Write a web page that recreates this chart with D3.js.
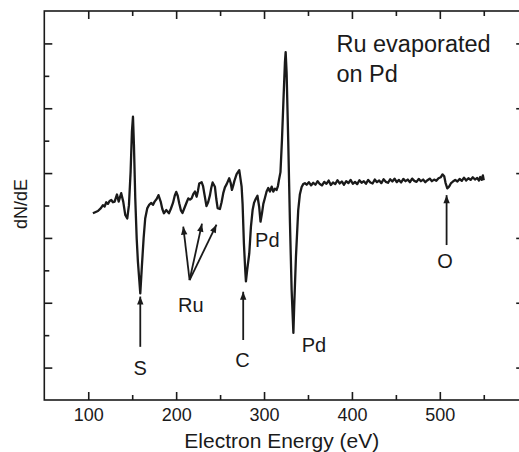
<!DOCTYPE html>
<html><head><meta charset="utf-8">
<script src="https://cdn.jsdelivr.net/npm/d3@7"></script>
<style>body{margin:0;background:#fff}svg{display:block}</style>
</head><body>
<svg id="c" width="519" height="452"></svg>
<script>
// Electron energy (eV)
const energy = [
105.3,108.5,111.0,114.4,116.7,118.6,120.5,122.4,124.3,126.2,128.1,130.0,132.7,134.6,137.5,139.8,142.1,144.4,146.3,148.2,
149.7,150.9,152.0,153.5,155.1,156.5,159.2,161.1,163.0,164.8,167.1,169.5,171.7,173.6,175.5,177.8,179.9,182.4,184.2,186.1,
188.7,191.8,194.0,196.4,198.4,200.1,201.8,203.5,205.4,207.2,210.0,212.0,213.8,215.8,217.6,219.6,221.4,223.3,224.8,226.3,
229.0,230.6,232.0,234.5,236.4,238.5,240.0,241.5,244.1,245.7,247.2,249.8,251.7,253.6,255.5,257.5,260.4,262.0,263.5,265.0,
266.3,268.8,271.8,274.5,275.6,277.1,278.6,279.4,280.8,283.2,285.1,287.0,288.6,290.5,292.5,294.5,296.0,297.6,299.2,301.0,
302.9,304.8,306.7,308.7,310.5,312.4,314.3,315.8,317.0,318.7,320.4,322.1,323.8,324.6,325.7,327.5,329.5,331.4,333.4,334.3,
336.3,338.9,340.8,342.8,344.6,346.5,
348.5,351,353.5,356,358.5,361,363.5,366,368.5,371,373.5,376,378.5,381,383.5,386,388.5,391,393.5,396,
398.5,401,403.5,406,408.5,411,413.5,416,418.5,421,423.5,426,428.5,431,433.5,436,438.5,441,443.5,446,
448.5,451,453.5,456,458.5,461,463.5,466,468.5,471,473.5,476,478.5,481,483.5,486,488.5,491,493.5,496,
498.5,501,503,505,506.5,508.5,510.5,512.5,515,517.5,520,522.5,525,527.5,530,532.5,535,537.5,540,542.5,
544.5,546,547.5,549,550
];
// dN/dE signal (arbitrary units)
const dNdE = [
5.76,5.80,5.83,5.92,6.01,5.97,6.10,6.05,6.14,6.17,6.10,6.12,6.34,6.12,6.38,6.12,5.71,5.60,6.01,7.04,
8.28,8.74,7.86,6.22,4.99,4.27,3.29,4.16,4.99,5.60,5.91,6.03,6.08,6.02,6.12,6.20,6.32,6.12,5.90,5.76,
5.86,5.76,5.90,6.08,6.30,6.42,6.30,6.07,5.85,5.77,5.96,6.10,6.22,6.18,6.22,6.36,6.43,6.27,6.45,6.68,
6.72,6.60,6.38,5.98,6.10,6.32,6.55,6.71,6.58,6.20,5.92,5.89,6.10,6.38,6.56,6.66,6.84,6.70,6.48,6.62,
6.76,6.97,7.09,6.58,6.05,4.83,4.01,3.66,4.01,4.52,5.35,5.86,6.08,6.20,6.30,5.95,5.50,5.75,6.05,6.23,
6.43,6.54,6.43,6.58,6.43,6.52,6.48,6.60,6.79,7.03,8.02,9.25,10.43,10.73,10.09,8.02,5.46,3.39,2.07,2.87,
4.41,5.86,6.35,6.57,6.66,6.69,
6.64,6.72,6.62,6.70,6.64,6.75,6.66,6.62,6.73,6.67,6.77,6.63,6.71,6.66,6.78,6.68,6.74,6.64,6.75,6.69,
6.79,6.67,6.73,6.66,6.78,6.70,6.75,6.67,6.79,6.71,6.68,6.80,6.72,6.77,6.69,6.81,6.73,6.70,6.81,6.74,
6.83,6.72,6.79,6.71,6.82,6.75,6.80,6.72,6.83,6.76,6.73,6.82,6.75,6.80,6.72,6.78,6.83,6.75,6.80,6.76,
6.84,6.87,6.96,6.90,6.70,6.53,6.58,6.68,6.74,6.79,6.74,6.82,6.76,6.86,6.77,6.84,6.79,6.87,6.80,6.85,
6.77,6.88,6.79,6.93,6.78
];
const xMajorTicks = [100, 200, 300, 400, 500];
const xMinorTicks = [150, 250, 350, 450, 550];
const yMajorTicks = [1, 3, 5, 7, 9, 11];
const yMinorTicks = [2, 4, 6, 8, 10];
const xTitle = "Electron Energy (eV)";
const yTitle = "dN/dE";
const noteLines = ["Ru evaporated", "on Pd"];
// annotation labels: text, energy, signal level, anchor
const labelText = ["S", "Ru", "C", "Pd", "Pd", "O"];
const labelE = [159.2, 216.6, 275.4, 289.8, 342.8, 505.8];
const labelV = [0.77, 2.72, 1.03, 4.73, 1.49, 4.07];
const labelAnchor = ["middle", "middle", "middle", "start", "start", "middle"];
// arrows: from (e0,v0) to tip (e1,v1)
const arrowE0 = [159.2, 215.3, 215.3, 215.3, 276.3, 507.7];
const arrowV0 = [1.64, 3.70, 3.70, 3.70, 1.85, 4.78];
const arrowE1 = [159.2, 208.1, 229.4, 245.9, 276.3, 507.7];
const arrowV1 = [3.19, 5.35, 5.44, 5.41, 3.34, 6.32];

const svg = d3.select("#c");
const L = 44.3, T = 11, B = 400, R = 524.2;
const x = d3.scaleLinear().domain([50, 596]).range([L, R]);
const y = d3.scaleLinear().domain([0, 12]).range([B, T]);
const ink = "#1a1a1a";
const font = "Liberation Sans, Arial, Helvetica, sans-serif";

// frame
svg.append("rect").attr("x", L).attr("y", T).attr("width", R - L).attr("height", B - T)
  .attr("fill", "none").attr("stroke", ink).attr("stroke-width", 1.6);

function axisTicks(gen, tr, major, minor, ticksIn) {
  const g1 = svg.append("g").attr("transform", tr).call(gen(major).tickSize(ticksIn[0]));
  const g2 = svg.append("g").attr("transform", tr).call(gen(minor).tickSize(ticksIn[1]));
  [g1, g2].forEach(g => {
    g.select(".domain").remove();
    g.selectAll("line").attr("stroke", ink).attr("stroke-width", 1.6);
    g.selectAll("text").remove();
  });
}
// bottom (ticks inward = upward)
axisTicks(t => d3.axisTop(x).tickValues(t), `translate(0,${B})`, xMajorTicks, xMinorTicks, [8, 5]);
// top (inward = downward)
axisTicks(t => d3.axisBottom(x).tickValues(t), `translate(0,${T})`, xMajorTicks, xMinorTicks, [8, 5]);
// left (inward = right)
axisTicks(t => d3.axisRight(y).tickValues(t), `translate(${L},0)`, yMajorTicks, yMinorTicks, [8, 5]);
// right (inward = left)
axisTicks(t => d3.axisLeft(y).tickValues(t), `translate(${R},0)`, yMajorTicks, yMinorTicks, [8, 5]);

// tick labels
const xl = svg.append("g").attr("transform", `translate(0,${B})`)
  .call(d3.axisBottom(x).tickValues(xMajorTicks).tickSize(0).tickPadding(0).tickFormat(d3.format("d")));
xl.select(".domain").remove();
xl.selectAll("text").attr("y", 21).attr("dy", null).attr("font-family", font).attr("font-size", 18).attr("fill", ink);

// titles
svg.append("text").attr("x", (x(50) + x(596)) / 2 - 2.5).attr("y", 448).attr("text-anchor", "middle")
  .attr("font-family", font).attr("font-size", 21).attr("fill", ink).text(xTitle);
svg.append("text").attr("transform", "translate(27,204) rotate(-90)").attr("text-anchor", "middle")
  .attr("font-family", font).attr("font-size", 18).attr("fill", ink).text(yTitle);

// curve
const pts = energy.map((e, i) => [e, dNdE[i]]);
svg.append("path").datum(pts)
  .attr("d", d3.line().x(d => x(d[0])).y(d => y(d[1])).curve(d3.curveLinear))
  .attr("fill", "none").attr("stroke", ink).attr("stroke-width", 2.3).attr("stroke-linejoin", "round");

// arrows
svg.append("defs").append("marker").attr("id", "ah").attr("viewBox", "0 0 10 10")
  .attr("refX", 10).attr("refY", 5).attr("markerWidth", 10).attr("markerHeight", 8)
  .attr("markerUnits", "userSpaceOnUse").attr("orient", "auto")
  .append("path").attr("d", "M0,1 L10,5 L0,9 Z").attr("fill", ink);
svg.append("g").selectAll("line").data(arrowE0).join("line")
  .attr("x1", (d, i) => x(arrowE0[i])).attr("y1", (d, i) => y(arrowV0[i]))
  .attr("x2", (d, i) => x(arrowE1[i])).attr("y2", (d, i) => y(arrowV1[i]))
  .attr("stroke", ink).attr("stroke-width", 1.8).attr("marker-end", "url(#ah)");

// labels
svg.append("g").selectAll("text").data(labelText).join("text")
  .attr("x", (d, i) => x(labelE[i])).attr("y", (d, i) => y(labelV[i]))
  .attr("text-anchor", (d, i) => labelAnchor[i])
  .attr("font-family", font).attr("font-size", 20).attr("fill", ink).text(d => d);

// note
svg.append("g").selectAll("text").data(noteLines).join("text")
  .attr("x", x(382.4)).attr("y", (d, i) => y(10.73 - i * 0.91))
  .attr("font-family", font).attr("font-size", 23.5).attr("fill", ink).text(d => d);
</script>
</body></html>
